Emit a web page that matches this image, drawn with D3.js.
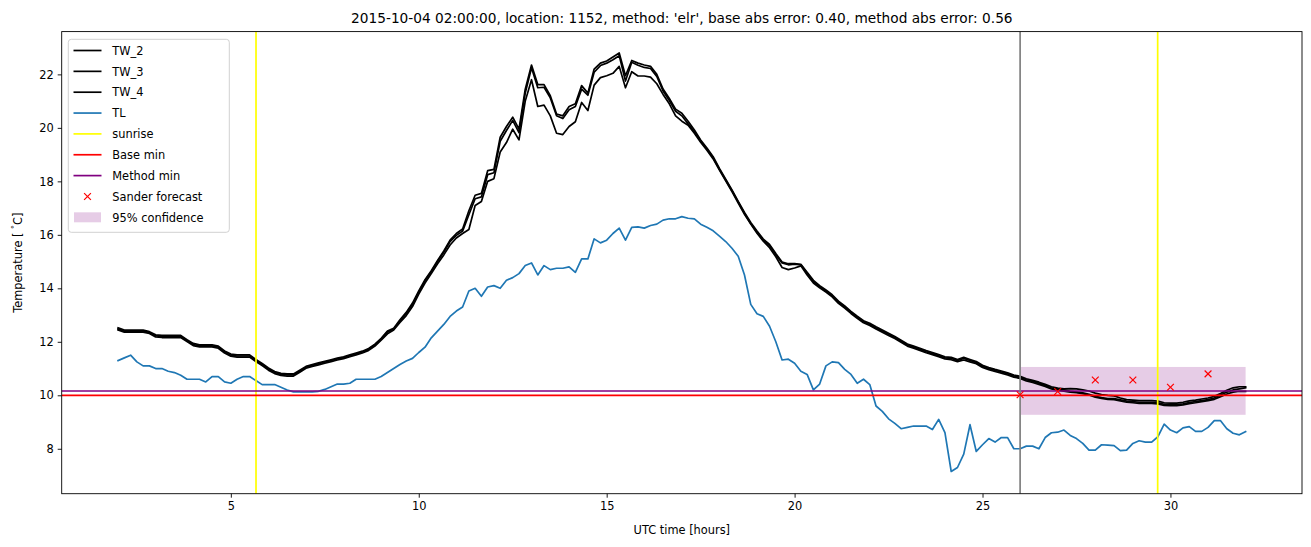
<!DOCTYPE html>
<html><head><meta charset="utf-8">
<script src="https://cdn.jsdelivr.net/npm/d3@7"></script>
<style>
body{margin:0;background:#fff}
svg{display:block}
text{font-family:"DejaVu Sans",sans-serif;fill:#000}
</style>
</head><body>
<svg id="c" width="1311" height="547"></svg>
<script>
// ---------------- data ----------------
const startHour = 2;          // first sample (UTC hours)
const stepMinutes = 10;       // sample spacing

const tw2 = [
12.52,12.44,12.44,12.44,12.44,12.38,
12.26,12.24,12.24,12.24,12.24,12.08,
11.94,11.89,11.89,11.89,11.84,11.66,
11.54,11.51,11.51,11.51,11.34,11.19,
11.02,10.89,10.82,10.80,10.80,10.94,
11.08,11.15,11.21,11.27,11.33,11.39,
11.44,11.51,11.58,11.65,11.75,11.91,
12.13,12.40,12.51,12.82,13.10,13.45,
13.90,14.32,14.66,15.04,15.40,15.80,
16.05,16.22,16.90,17.48,17.55,18.40,
18.45,19.65,20.05,20.40,19.95,21.45,
22.35,21.62,21.62,21.20,20.52,20.45,
20.80,20.90,21.58,21.30,22.20,22.42,
22.50,22.65,22.80,21.95,22.52,22.42,
22.35,22.30,22.00,21.45,21.10,20.70,
20.55,20.25,19.92,19.55,19.25,18.92,
18.48,18.08,17.68,17.25,16.84,16.46,
16.14,15.84,15.64,15.30,14.98,14.92,
14.92,14.90,14.60,14.30,14.10,13.94,
13.76,13.52,13.34,13.14,12.96,12.79,
12.69,12.56,12.44,12.32,12.20,12.06,
11.92,11.84,11.76,11.67,11.60,11.52,
11.44,11.42,11.34,11.42,11.34,11.26,
11.12,11.04,10.97,10.91,10.84,10.76,
10.71,10.62,10.56,10.49,10.41,10.32,
10.27,10.24,10.25,10.24,10.20,10.16,
10.08,10.03,10.00,9.98,9.90,9.84,
9.82,9.80,9.80,9.80,9.78,9.72,
9.71,9.71,9.74,9.79,9.82,9.86,
9.90,9.96,10.07,10.19,10.28,10.32,
10.32];

const tw3 = [
12.48,12.40,12.40,12.40,12.40,12.35,
12.22,12.20,12.20,12.20,12.20,12.05,
11.90,11.85,11.85,11.85,11.80,11.62,
11.50,11.47,11.47,11.47,11.30,11.15,
10.98,10.85,10.78,10.76,10.76,10.90,
11.05,11.12,11.18,11.24,11.30,11.36,
11.41,11.48,11.55,11.62,11.72,11.88,
12.10,12.37,12.48,12.78,13.05,13.40,
13.85,14.28,14.62,15.00,15.35,15.75,
15.98,16.14,16.75,17.35,17.42,18.25,
18.32,19.50,19.90,20.28,19.82,21.30,
22.25,21.50,21.52,21.12,20.45,20.35,
20.68,20.80,21.45,21.22,22.08,22.33,
22.42,22.55,22.70,21.75,22.45,22.34,
22.26,22.22,21.92,21.38,21.02,20.62,
20.45,20.15,19.85,19.50,19.20,18.88,
18.45,18.05,17.65,17.22,16.80,16.42,
16.10,15.80,15.60,15.25,14.95,14.88,
14.90,14.88,14.55,14.25,14.06,13.90,
13.72,13.48,13.30,13.10,12.92,12.75,
12.65,12.52,12.40,12.28,12.16,12.02,
11.88,11.80,11.72,11.63,11.56,11.48,
11.40,11.38,11.30,11.38,11.30,11.22,
11.08,11.00,10.93,10.87,10.80,10.72,
10.67,10.58,10.52,10.45,10.37,10.28,
10.23,10.20,10.15,10.12,10.09,10.04,
9.96,9.91,9.88,9.88,9.83,9.78,
9.76,9.74,9.74,9.74,9.72,9.66,
9.65,9.65,9.68,9.73,9.76,9.80,
9.84,9.90,10.01,10.12,10.20,10.24,
10.28];

const tw4 = [
12.44,12.36,12.36,12.36,12.36,12.31,
12.18,12.16,12.16,12.16,12.16,12.01,
11.86,11.81,11.81,11.81,11.76,11.58,
11.46,11.43,11.43,11.43,11.26,11.11,
10.94,10.81,10.74,10.72,10.72,10.86,
11.01,11.08,11.14,11.20,11.26,11.32,
11.37,11.44,11.51,11.58,11.68,11.84,
12.06,12.30,12.44,12.72,12.98,13.32,
13.78,14.20,14.55,14.92,15.25,15.62,
15.88,16.05,16.20,17.10,17.25,18.00,
18.10,19.10,19.45,19.95,19.55,21.00,
21.80,20.80,20.85,20.45,19.80,19.75,
20.05,20.23,20.95,20.65,21.60,21.88,
21.95,22.04,22.30,21.50,22.10,21.94,
21.94,21.90,21.65,21.25,20.90,20.45,
20.25,20.10,19.80,19.46,19.16,18.84,
18.42,18.02,17.62,17.19,16.77,16.40,
16.06,15.76,15.52,15.18,14.78,14.70,
14.76,14.84,14.50,14.20,14.02,13.86,
13.68,13.44,13.26,13.06,12.88,12.71,
12.61,12.48,12.36,12.24,12.12,11.98,
11.84,11.76,11.68,11.59,11.52,11.44,
11.36,11.33,11.26,11.32,11.25,11.18,
11.04,10.96,10.89,10.83,10.76,10.68,
10.63,10.54,10.48,10.41,10.33,10.24,
10.19,10.15,10.12,10.10,10.06,10.01,
9.93,9.88,9.85,9.84,9.79,9.74,
9.72,9.70,9.70,9.70,9.68,9.62,
9.61,9.61,9.64,9.69,9.72,9.76,
9.80,9.85,9.95,10.05,10.12,10.15,
10.15];

const tl = [
11.30,11.40,11.50,11.25,11.10,11.10,
11.00,11.00,10.90,10.85,10.75,10.60,
10.60,10.60,10.50,10.70,10.70,10.50,
10.45,10.60,10.70,10.70,10.55,10.40,
10.40,10.40,10.30,10.20,10.13,10.13,
10.13,10.13,10.15,10.22,10.32,10.42,
10.42,10.45,10.60,10.60,10.60,10.60,
10.70,10.85,11.00,11.15,11.28,11.38,
11.60,11.80,12.15,12.40,12.65,12.95,
13.15,13.30,13.90,14.00,13.70,14.05,
14.10,14.00,14.30,14.40,14.55,14.85,
14.95,14.50,14.85,14.70,14.75,14.75,
14.80,14.60,15.10,15.10,15.85,15.70,
15.80,16.05,16.25,15.80,16.28,16.30,
16.25,16.35,16.40,16.55,16.60,16.60,
16.68,16.62,16.60,16.40,16.28,16.15,
15.95,15.75,15.50,15.20,14.50,13.40,
13.05,12.95,12.58,12.00,11.32,11.35,
11.20,10.90,10.78,10.20,10.42,11.10,
11.25,11.22,10.97,10.78,10.45,10.60,
10.40,9.60,9.40,9.12,8.95,8.75,
8.80,8.85,8.85,8.85,8.72,9.10,
8.60,7.15,7.30,7.80,8.90,7.90,
8.15,8.38,8.25,8.42,8.42,8.00,
8.00,8.10,8.10,8.00,8.42,8.60,
8.62,8.70,8.50,8.38,8.20,7.95,
7.95,8.15,8.14,8.12,7.93,7.95,
8.20,8.30,8.25,8.25,8.45,8.92,
8.70,8.60,8.78,8.83,8.65,8.65,
8.80,9.05,9.05,8.75,8.58,8.52,
8.64];

const sunriseHours = [5.67, 29.66];
const forecastStartHour = 26;
const baseMin = 10.0;
const methodMin = 10.16;
const sanderHours = [26, 27, 28, 29, 30, 31];
const sanderValues = [10.02, 10.14, 10.57, 10.57, 10.30, 10.80];
const confHours = [26, 32];
const confLow = 9.27;
const confHigh = 11.06;

const xTickValues = [5, 10, 15, 20, 25, 30];
const yTickValues = [8, 10, 12, 14, 16, 18, 20, 22];

const titleText = "2015-10-04 02:00:00, location: 1152, method: 'elr', base abs error: 0.40, method abs error: 0.56";

// ---------------- drawing ----------------
const svg = d3.select("#c");
const L = 61.7, R = 1302, T = 31.6, B = 493.7;
const x = d3.scaleLinear().domain([0.5, 33.5]).range([L, R]);
const y = d3.scaleLinear().domain([6.32, 23.6]).range([B, T]);

const hourOf = i => startHour + i * stepMinutes / 60;

svg.append("defs").append("clipPath").attr("id", "clip")
  .append("rect").attr("x", L).attr("y", T).attr("width", R - L).attr("height", B - T);

const plot = svg.append("g").attr("clip-path", "url(#clip)");

// confidence band (behind lines)
plot.append("rect")
  .attr("x", x(confHours[0])).attr("width", x(confHours[1]) - x(confHours[0]))
  .attr("y", y(confHigh)).attr("height", y(confLow) - y(confHigh))
  .attr("fill", "#800080").attr("fill-opacity", 0.2);

const line = d3.line().x((d, i) => x(hourOf(i))).y(d => y(d));
const LW = 1.7;
[tw2, tw3, tw4].forEach(s => {
  plot.append("path").attr("d", line(s)).attr("fill", "none")
    .attr("stroke", "#000").attr("stroke-width", LW).attr("stroke-linejoin", "round").attr("stroke-linecap", "square");
});
plot.append("path").attr("d", line(tl)).attr("fill", "none")
  .attr("stroke", "#1f77b4").attr("stroke-width", LW).attr("stroke-linejoin", "round").attr("stroke-linecap", "square");

// sunrise lines
sunriseHours.forEach(h => {
  plot.append("line").attr("x1", x(h)).attr("x2", x(h)).attr("y1", T).attr("y2", B)
    .attr("stroke", "#ffff00").attr("stroke-width", LW);
});
// base / method min
plot.append("line").attr("x1", L).attr("x2", R).attr("y1", y(baseMin)).attr("y2", y(baseMin))
  .attr("stroke", "#ff0000").attr("stroke-width", LW);
plot.append("line").attr("x1", L).attr("x2", R).attr("y1", y(methodMin)).attr("y2", y(methodMin))
  .attr("stroke", "#800080").attr("stroke-width", LW);
// forecast start
plot.append("line").attr("x1", x(forecastStartHour)).attr("x2", x(forecastStartHour)).attr("y1", T).attr("y2", B)
  .attr("stroke", "#808080").attr("stroke-width", LW);

// Sander forecast markers
const mk = 3.4;
const crossPath = (cx, cy) => `M${cx - mk},${cy - mk}L${cx + mk},${cy + mk}M${cx - mk},${cy + mk}L${cx + mk},${cy - mk}`;
sanderHours.forEach((h, i) => {
  plot.append("path").attr("d", crossPath(x(h), y(sanderValues[i])))
    .attr("stroke", "#ff0000").attr("stroke-width", 1.2).attr("fill", "none");
});

// axes
const fs = 11.4;
const xAxis = d3.axisBottom(x).tickValues(xTickValues).tickSize(4).tickPadding(4).tickFormat(d3.format("d"));
const gx = svg.append("g").attr("transform", `translate(0,${B})`).call(xAxis);
const yAxis = d3.axisLeft(y).tickValues(yTickValues).tickSize(4).tickPadding(4).tickFormat(d3.format("d"));
const gy = svg.append("g").attr("transform", `translate(${L},0)`).call(yAxis);
[gx, gy].forEach(g => {
  g.select(".domain").remove();
  g.selectAll(".tick line").attr("stroke", "#000").attr("stroke-width", 0.9);
  g.selectAll(".tick text").attr("font-size", fs).attr("font-family", "DejaVu Sans").attr("fill", "#000");
});

// spines
svg.append("rect").attr("x", L).attr("y", T).attr("width", R - L).attr("height", B - T)
  .attr("fill", "none").attr("stroke", "#000").attr("stroke-width", 0.9);

// labels
svg.append("text").attr("x", (L + R) / 2).attr("y", 534).attr("text-anchor", "middle")
  .attr("font-size", fs).text("UTC time [hours]");
const yl = svg.append("text").attr("transform", `translate(21.5,${(T + B) / 2}) rotate(-90)`)
  .attr("text-anchor", "middle").attr("font-size", fs);
yl.append("tspan").text("Temperature [ ");
yl.append("tspan").attr("font-size", fs * 0.7).attr("dy", -4.5).text("°");
yl.append("tspan").attr("dy", 4.5).text("C]");

svg.append("text").attr("x", (L + R) / 2).attr("y", 23).attr("text-anchor", "middle")
  .attr("font-size", 13.7).text(titleText);

// legend
const lg = svg.append("g");
lg.append("rect").attr("x", 68.3).attr("y", 39.3).attr("width", 161).attr("height", 193)
  .attr("rx", 3).attr("fill", "#fff").attr("fill-opacity", 0.8).attr("stroke", "#cccccc").attr("stroke-width", 0.9);
const items = [
  {label: "TW_2", type: "line", color: "#000"},
  {label: "TW_3", type: "line", color: "#000"},
  {label: "TW_4", type: "line", color: "#000"},
  {label: "TL", type: "line", color: "#1f77b4"},
  {label: "sunrise", type: "line", color: "#ffff00"},
  {label: "Base min", type: "line", color: "#ff0000"},
  {label: "Method min", type: "line", color: "#800080"},
  {label: "Sander forecast", type: "marker", color: "#ff0000"},
  {label: "95% confidence", type: "patch", color: "#800080"}
];
items.forEach((it, i) => {
  const cy = 50.5 + i * 20.85;
  if (it.type === "line") {
    lg.append("line").attr("x1", 73.5).attr("x2", 101.5).attr("y1", cy).attr("y2", cy)
      .attr("stroke", it.color).attr("stroke-width", LW);
  } else if (it.type === "marker") {
    lg.append("path").attr("d", crossPath(87.5, cy)).attr("stroke", it.color).attr("stroke-width", 1.2).attr("fill", "none");
  } else {
    lg.append("rect").attr("x", 74).attr("y", cy - 5).attr("width", 27).attr("height", 10)
      .attr("fill", it.color).attr("fill-opacity", 0.2);
  }
  lg.append("text").attr("x", 112.3).attr("y", cy + 4.2).attr("font-size", fs).text(it.label);
});
</script>
</body></html>
